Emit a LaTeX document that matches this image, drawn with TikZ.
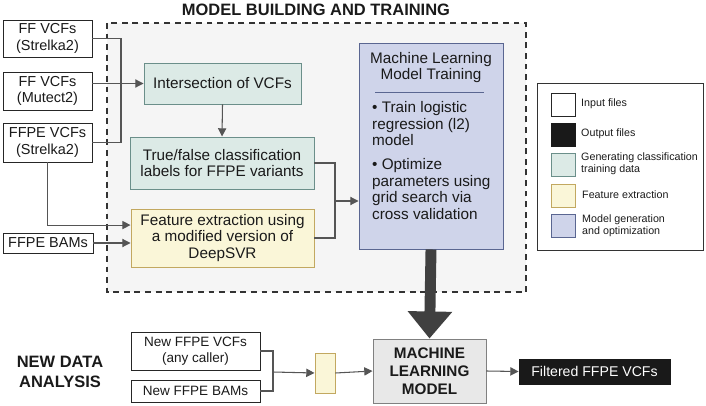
\documentclass[tikz,border=0pt]{standalone}
\usepackage{fontspec}
\setmainfont{Liberation Sans}
\usetikzlibrary{arrows.meta}

\definecolor{tealfill}{HTML}{DCEAE6}
\definecolor{tealline}{HTML}{6B8F8A}
\definecolor{yelfill}{HTML}{FAF6D8}
\definecolor{yelline}{HTML}{C2A860}
\definecolor{bluefill}{HTML}{CFD4EA}
\definecolor{blueline}{HTML}{5A6691}
\definecolor{regionfill}{HTML}{F5F5F5}
\definecolor{modelfill}{HTML}{E8E8E8}
\definecolor{linkgray}{HTML}{555555}
\definecolor{textdark}{HTML}{1A1A1A}

\tikzset{
  boxsize/.style 2 args={minimum width=#1*0.85pt, minimum height=#2*0.85pt},
  basebox/.style={line width=0.8pt, align=center, inner sep=0pt, text=textdark},
  infile/.style={basebox, draw=black!85, fill=white, font=\fontsize{12.3}{14.2}\selectfont},
  classbox/.style={basebox, draw=tealline, fill=tealfill, font=\fontsize{13}{14.2}\selectfont},
  featbox/.style={basebox, draw=yelline, fill=yelfill, font=\fontsize{13}{14.2}\selectfont},
  trainbox/.style={basebox, draw=blueline, fill=bluefill},
  modelbox/.style={basebox, draw=black!50, fill=modelfill, font=\fontsize{13}{15.5}\selectfont\bfseries},
  outfile/.style={basebox, draw=black!90, fill=black!90, text=white, font=\fontsize{12}{14}\selectfont},
  swatch/.style={line width=0.6pt, inner sep=0pt, minimum width=24*0.85pt, minimum height=23*0.85pt},
  legtext/.style={anchor=west, align=left, inner sep=0pt, text=textdark, font=\fontsize{9.1}{10.3}\selectfont},
  link/.style={draw=linkgray, line width=0.9pt},
  linkarrow/.style={link, -{Triangle[width=7pt,length=7pt]}},
  bigarrow/.style={draw=black!75, line width=9.3pt, -{Triangle[width=36.5pt,length=23pt]}},
  heading/.style={align=center, inner sep=0pt, text=textdark, font=\fontsize{14}{17}\selectfont\bfseries},
}

\begin{document}
\begin{tikzpicture}[x=0.85pt, y=-0.85pt]
  \useasboundingbox (0,0) rectangle (706,406);

  % model building region
  \draw[fill=regionfill, draw=black!80, dashed, line width=1.2pt, dash pattern=on 5pt off 4pt] (107,23) rectangle (526,292);
  \node[heading] (buildtitle) at (316,10) {MODEL BUILDING AND TRAINING};

  % input files
  \node[infile, boxsize={89}{37}] (ffs) at (47.5,38.5) {FF VCFs\\(Strelka2)};
  \node[infile, boxsize={89}{38}] (ffm) at (47.5,91) {FF VCFs\\(Mutect2)};
  \node[infile, boxsize={89}{39}] (ffpes) at (47.5,142.5) {FFPE VCFs\\(Strelka2)};
  \node[infile, boxsize={90}{20}] (bam) at (48,243) {FFPE BAMs};

  % training steps
  \node[classbox, boxsize={157}{41}] (inter) at (222.5,83.5) {Intersection of VCFs};
  \node[classbox, boxsize={184}{52}] (truefalse) at (222,163) {True/false classification\\labels for FFPE variants};
  \node[featbox, boxsize={183}{58}] (featx) at (222.5,238) {Feature extraction using\\a modified version of\\DeepSVR};
  \node[trainbox, boxsize={144}{206}] (mltrain) at (431,146) {};
  \node[align=center, inner sep=0pt, text=textdark, font=\fontsize{13}{14.2}\selectfont] (mltitle) at (431,67.5) {Machine Learning\\Model Training};
  \draw[blueline, line width=0.8pt] (375,92) -- (484,92);
  \node[anchor=north west, align=left, inner sep=0pt, text=textdark, font=\fontsize{13}{14.2}\selectfont] (mlsteps) at (372,101)
    {• Train logistic\\regression (l2)\\model\\[6pt]• Optimize\\parameters using\\grid search via\\cross validation};

  \coordinate (jn) at (121,83);
  \coordinate (jm) at (335,201);
  \draw[link] (ffs.east) -| (jn) |- (ffpes.east);
  \draw[linkarrow] (ffm.east |- inter.west) -- (inter.west);
  \draw[linkarrow] (inter.south) -- (truefalse.north);
  \draw[linkarrow] (ffpes.south) |- ([yshift=11pt]featx.west);
  \draw[linkarrow] (bam.east) -- (bam.east -| featx.west);
  \draw[link] (truefalse.east) -| (jm);
  \draw[link] (featx.east) -| (jm);
  \draw[linkarrow] (jm) -- (jm -| mltrain.west);

  % legend
  \draw[black!80, line width=0.8pt] (537,83) rectangle (703,250);
  \node[swatch, draw=black!85, fill=white] (leginput) at (563,104.5) {};
  \node[swatch, draw=black!90, fill=black!90] (legoutput) at (563,135) {};
  \node[swatch, draw=tealline, fill=tealfill] (legclass) at (563,165) {};
  \node[swatch, draw=yelline, fill=yelfill] (legfeat) at (563,195.5) {};
  \node[swatch, draw=blueline, fill=bluefill] (legmodel) at (563,226) {};
  \node[legtext] at (581,104) {Input files};
  \node[legtext] at (581,134) {Output files};
  \node[legtext] at (581,164) {Generating classification\\training data};
  \node[legtext] at (582,195) {Feature extraction};
  \node[legtext] at (582,226) {Model generation\\and optimization};

  % new data analysis
  \node[heading] (newtitle) at (60,372) {NEW DATA\\ANALYSIS};
  \node[infile, boxsize={129}{38}, font=\fontsize{11.5}{14}\selectfont] (newvcf) at (195.5,351) {New FFPE VCFs\\(any caller)};
  \node[infile, boxsize={129}{22}, font=\fontsize{11.5}{14}\selectfont] (newbam) at (195.5,391) {New FFPE BAMs};
  \node[featbox, boxsize={20}{40}] (featsmall) at (325,373) {};
  \node[modelbox, boxsize={113}{64}] (mlmodel) at (429.5,371) {MACHINE\\LEARNING\\MODEL};
  \node[outfile, boxsize={151}{25}] (filtered) at (594.5,371.5) {Filtered FFPE VCFs};

  \coordinate (jd) at (273,372);
  \draw[link] (newvcf.east) -| (jd);
  \draw[link] (newbam.east) -| (jd);
  \draw[linkarrow] (jd) -- (featsmall.west);
  \draw[linkarrow] (featsmall.east) -- (mlmodel.west);
  \draw[linkarrow] (mlmodel.east) -- (filtered.west);

  \draw[bigarrow] (mltrain.south) -- (mlmodel.north);
\end{tikzpicture}
\end{document}
